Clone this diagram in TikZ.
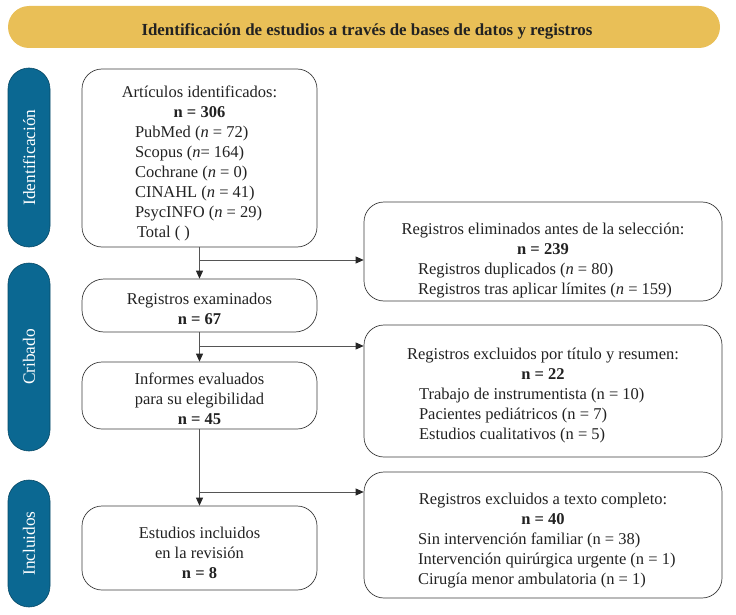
\documentclass[tikz,border=0pt]{standalone}
\usepackage{fontspec}
\setmainfont{Liberation Serif}
\usetikzlibrary{arrows.meta}
\definecolor{hdr}{HTML}{E9BF57}
\definecolor{sideblue}{HTML}{0B6892}
\definecolor{boxline}{HTML}{3C3C3C}
\definecolor{conn}{HTML}{555555}
\definecolor{txt}{HTML}{222222}
\newcommand\litem[2]{\makebox[#1][l]{#2}}
\tikzset{
  hdrbox/.style={fill=hdr, rounded corners=21pt, minimum width=712pt, minimum height=42pt, inner sep=0pt},
  hdrtext/.style={inner sep=0pt, text=txt, font=\fontsize{16.9}{20}\selectfont\bfseries},
  sidepill/.style={fill=sideblue, draw=sideblue!70!black, line width=0.6pt, rounded corners=21pt, minimum width=42pt, inner sep=0pt, text=white, font=\fontsize{17.3}{20}\selectfont},
  leftbox/.style={draw=boxline, line width=0.7pt, fill=white, rounded corners=20pt, minimum width=235pt, inner sep=0pt},
  rightbox/.style={draw=boxline, line width=0.7pt, fill=white, rounded corners=20pt, minimum width=358pt, inner sep=0pt},
  boxtext/.style={inner sep=0pt, align=center, text=txt, font=\fontsize{16.5}{20}\selectfont},
  conarrow/.style={draw=conn, line width=0.8pt, -{Triangle[length=8pt,width=7pt,color=black!85]}}
}
\begin{document}
\begin{tikzpicture}[x=1pt,y=-1pt]
\useasboundingbox (0,0) rectangle (736,615);
\node[hdrbox] (hdr) at (364,27) {};
\node[hdrtext] (hdrt) at (367,31) {Identificación de estudios a través de bases de datos y registros};
\node[sidepill, minimum height=179pt] (sid) at (29,157.5) {\rotatebox{90}{Identificación}};
\node[sidepill, minimum height=188pt] (scr) at (29,357) {\rotatebox{90}{Cribado}};
\node[sidepill, minimum height=127pt] (sinc) at (29,543.5) {\rotatebox{90}{Incluidos}};

\node[leftbox, minimum height=178pt] (b1) at (199.5,158) {};
\node[boxtext] (t1) at (199.5,163) {Artículos identificados:\\ \textbf{n = 306}\\
  \litem{129pt}{PubMed (\textit{n} = 72)}\\ \litem{129pt}{Scopus (\textit{n}= 164)}\\ \litem{129pt}{Cochrane (\textit{n} = 0)}\\ \litem{129pt}{CINAHL (\textit{n} = 41)}\\ \litem{129pt}{PsycINFO (\textit{n} = 29)}\\ \litem{129pt}{\hspace{2pt}Total ( )}};
\node[leftbox, minimum height=53pt, rounded corners=22pt] (b2) at (199.5,305.5) {};
\node[boxtext] (t2) at (199.5,309) {Registros examinados\\ \textbf{n = 67}};
\node[leftbox, minimum height=67pt] (b3) at (199.5,395.5) {};
\node[boxtext] (t3) at (199.5,398.5) {Informes evaluados\\ para su elegibilidad\\ \textbf{n = 45}};
\node[leftbox, minimum height=84pt] (b4) at (199.5,548) {};
\node[boxtext] (t4) at (199.5,552.5) {Estudios incluidos\\ en la revisión\\ \textbf{n = 8}};

\node[rightbox, minimum height=99pt] (r1) at (543,251.5) {};
\node[boxtext] (u1) at (543,261) {Registros eliminados antes de la selección:\\ \textbf{n = 239}\\
  \litem{250pt}{Registros duplicados (\textit{n} = 80)}\\ \litem{250pt}{Registros tras aplicar límites (\textit{n} = 159)}};
\node[rightbox, minimum height=132pt] (r2) at (543,391) {};
\node[boxtext] (u2) at (543,396) {Registros excluidos por título y resumen:\\ \textbf{n = 22}\\
  \litem{248pt}{Trabajo de instrumentista (n = 10)}\\ \litem{248pt}{Pacientes pediátricos (n = 7)}\\ \litem{248pt}{Estudios cualitativos (n = 5)}};
\node[rightbox, minimum height=126pt] (r3) at (543,535) {};
\node[boxtext] (u3) at (543,541) {Registros excluidos a texto completo:\\ \textbf{n = 40}\\
  \litem{250pt}{Sin intervención familiar (n = 38)}\\ \litem{250pt}{Intervención quirúrgica urgente (n = 1)}\\ \litem{250pt}{Cirugía menor ambulatoria (n = 1)}};

\coordinate (j1) at (199.5,260);
\coordinate (j2) at (199.5,346);
\coordinate (j3) at (199.5,492);
\draw[conarrow] (b1.south) -- (b2.north);
\draw[conarrow] (j1) -- (j1 -| r1.west);
\draw[conarrow] (b2.south) -- (b3.north);
\draw[conarrow] (j2) -- (j2 -| r2.west);
\draw[conarrow] (b3.south) -- (b4.north);
\draw[conarrow] (j3) -- (j3 -| r3.west);
\end{tikzpicture}
\end{document}
